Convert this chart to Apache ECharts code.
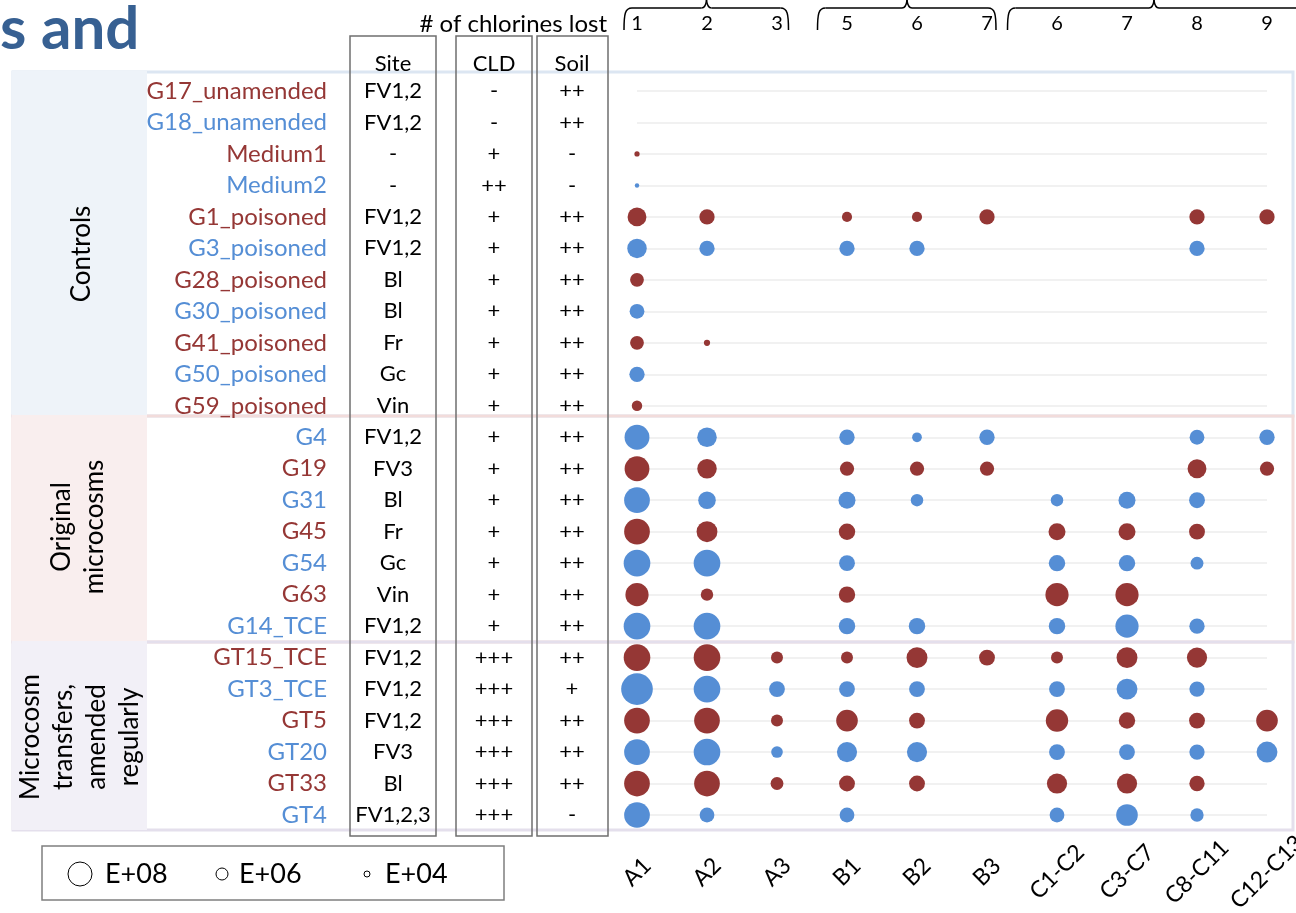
<!DOCTYPE html>
<html><head><meta charset="utf-8">
<script src="https://cdn.jsdelivr.net/npm/echarts@6/dist/echarts.min.js"></script>
<style>html,body{margin:0;padding:0;background:#fff}#c{width:1296px;height:913px}</style>
</head><body><div id="c"></div><script>
// ---- data ----
const congeners = ['A1','A2','A3','B1','B2','B3','C1-C2','C3-C7','C8-C11','C12-C13'];
const chlorinesLost = ['1','2','3','5','6','7','6','7','8','9'];
const samples = ['G17_unamended','G18_unamended','Medium1','Medium2','G1_poisoned','G3_poisoned','G28_poisoned','G30_poisoned','G41_poisoned','G50_poisoned','G59_poisoned','G4','G19','G31','G45','G54','G63','G14_TCE','GT15_TCE','GT3_TCE','GT5','GT20','GT33','GT4'];
const site = ['FV1,2','FV1,2','-','-','FV1,2','FV1,2','Bl','Bl','Fr','Gc','Vin','FV1,2','FV3','Bl','Fr','Gc','Vin','FV1,2','FV1,2','FV1,2','FV1,2','FV3','Bl','FV1,2,3'];
const cld = ['-','-','+','++','+','+','+','+','+','+','+','+','+','+','+','+','+','+','+++','+++','+++','+++','+++','+++'];
const soil = ['++','++','-','-','++','++','++','++','++','++','++','++','++','++','++','++','++','++','++','+','++','++','++','-'];
const groups = ['Controls','Original\nmicrocosms','Microcosm\ntransfers,\namended\nregularly'];
const legendExponents = [8, 6, 4];
const legendLabels = ['E+08','E+06','E+04'];
const n = null;
// log10 abundance per sample (rows) and congener group (columns)
const abundance = [
  [n,n,n,n,n,n,n,n,n,n],
  [n,n,n,n,n,n,n,n,n,n],
  [3.6,n,n,n,n,n,n,n,n,n],
  [3.1,n,n,n,n,n,n,n,n,n],
  [7.3,6.7,n,5.5,5.5,6.7,n,n,6.7,6.7],
  [7.4,6.7,n,6.7,6.7,n,n,n,6.7,n],
  [6.4,n,n,n,n,n,n,n,n,n],
  [6.6,n,n,n,n,n,n,n,n,n],
  [6.4,4.1,n,n,n,n,n,n,n,n],
  [6.7,n,n,n,n,n,n,n,n,n],
  [5.6,n,n,n,n,n,n,n,n,n],
  [8.1,7.4,n,6.7,5.4,6.7,n,n,6.6,6.7],
  [8.1,7.4,n,6.5,6.5,6.5,n,n,7.3,6.5],
  [8.2,7.1,n,7.0,6.1,n,6.1,7.0,6.8,n],
  [8.2,7.6,n,6.9,n,n,7.0,7.0,6.8,n],
  [8.3,8.3,n,6.8,n,n,6.9,6.9,6.2,n],
  [7.9,6.1,n,6.9,n,n,7.9,7.9,n,n],
  [8.3,8.3,n,6.9,6.9,n,6.9,7.9,6.7,n],
  [8.3,8.3,6.0,6.0,7.6,6.8,6.0,7.6,7.5,n],
  [8.8,8.3,6.8,6.8,6.8,n,6.8,7.6,6.7,n],
  [8.2,8.2,6.0,7.7,6.8,n,7.8,6.9,6.8,7.7],
  [8.2,8.3,5.9,7.5,7.5,n,6.8,6.8,6.7,7.6],
  [8.2,8.2,6.2,6.8,6.8,n,7.5,7.5,6.7,n],
  [8.2,6.6,n,6.6,n,n,6.6,7.7,6.3,n]
];
// ---- styles ----
const RED = '#953735', BLUE = '#558ED5';
const FONT = 'Lato';
const sizeOf = v => 6 * Math.pow(2, (v - 4) / 2);
const rowColor = i => (i % 2 === 0 ? RED : BLUE);

const points = [];
abundance.forEach((row, r) => row.forEach((v, c) => { if (v !== null) points.push([c, r, v]); }));

const tableAxis = (arr, margin) => ({
  type: 'category', data: samples, inverse: true, boundaryGap: false, gridIndex: 0, position: 'left', offset: 0,
  axisLine: {show: false}, axisTick: {show: false}, splitLine: {show: false},
  axisLabel: {interval: 0, margin: margin, align: 'center', fontSize: 22, fontFamily: FONT, color: '#000',
    padding: [4, 0, 0, 0], formatter: (v, i) => arr[i]}
});

const chart = echarts.init(document.getElementById('c'), null, {renderer: 'canvas'});

const graphics = [];
// group panels
const panelDefs = [
  {y0: 72, y1: 416, fill: '#EEF3F9', stroke: '#DCE6F2', cx: 82, cy: 254},
  {y0: 416, y1: 642, fill: '#F9EEEE', stroke: '#F2DCDB', cx: 78, cy: 527},
  {y0: 642, y1: 830, fill: '#F2F0F7', stroke: '#E4DFEC', cx: 80, cy: 737}
];
panelDefs.forEach((p, i) => {
  graphics.push({type: 'rect', z: -10, shape: {x: 13, y: p.y0, width: 1280, height: p.y1 - p.y0},
    style: {fill: 'none', stroke: p.stroke, lineWidth: 3}});
  graphics.push({type: 'rect', z: -9, shape: {x: 12, y: p.y0 - 1, width: 135, height: p.y1 - p.y0 + 1},
    style: {fill: p.fill}});
  graphics.push({type: 'text', z: 5, x: p.cx, y: p.cy, rotation: Math.PI / 2,
    style: {text: groups[i], align: 'center', verticalAlign: 'middle', fontSize: 26, lineHeight: 33,
      fontFamily: FONT, fill: '#000'}});
});
// table boxes
[[350, 86], [456, 76], [537, 71]].forEach(b => {
  graphics.push({type: 'rect', z: 3, shape: {x: b[0], y: 36, width: b[1], height: 800},
    style: {fill: 'none', stroke: '#6F6F6F', lineWidth: 1.5}});
});
// table headers
[['Site', 393], ['CLD', 494], ['Soil', 572]].forEach(h => {
  graphics.push({type: 'text', z: 5, x: h[1], y: 64,
    style: {text: h[0], align: 'center', verticalAlign: 'middle', fontSize: 22, fontFamily: FONT, fill: '#000'}});
});
// header text
graphics.push({type: 'text', z: 5, x: 607, y: 24,
  style: {text: '# of chlorines lost', align: 'right', verticalAlign: 'middle', fontSize: 24, fontFamily: FONT, fill: '#000'}});
// slide title fragment
graphics.push({type: 'text', z: 5, x: 0, y: 30,
  style: {text: 's and', align: 'left', verticalAlign: 'middle', fontSize: 60, fontWeight: 'bold', fontFamily: FONT, fill: '#376092'}});
// braces
const braceStyle = {fill: 'none', stroke: '#000', lineWidth: 1.5};
const bez = (x1, y1, cx1, cy1, cx2, cy2, x2, y2) => ({type: 'bezierCurve', z: 5,
  shape: {x1: x1, y1: y1, cpx1: cx1, cpy1: cy1, cpx2: cx2, cpy2: cy2, x2: x2, y2: y2}, style: braceStyle});
const seg = (x1, y1, x2, y2) => ({type: 'line', z: 5, shape: {x1: x1, y1: y1, x2: x2, y2: y2}, style: braceStyle});
[[624, 706.5, 788.5], [817.5, 907, 996], [1007.5, 1154, 1340]].forEach(b => {
  const l = b[0], m = b[1], r = b[2];
  graphics.push(bez(l, 30, l, 14, l + 1, 8, l + 8, 8));
  graphics.push(seg(l + 8, 8, m - 5, 8));
  graphics.push(bez(m - 5, 8, m - 2, 8, m - 0.5, 5, m, 0));
  graphics.push(bez(m, 0, m + 0.5, 5, m + 2, 8, m + 5, 8));
  graphics.push(seg(m + 5, 8, r - 8, 8));
  graphics.push(bez(r - 8, 8, r - 1, 8, r, 14, r, 30));
});
// legend
graphics.push({type: 'rect', z: 5, shape: {x: 42, y: 846, width: 462, height: 54},
  style: {fill: '#fff', stroke: '#7F7F7F', lineWidth: 1.5}});
const legCx = [80, 222, 367], legTx = [105, 239, 385];
legendExponents.forEach((e, i) => {
  graphics.push({type: 'circle', z: 6, shape: {cx: legCx[i], cy: 874, r: sizeOf(e) / 2},
    style: {fill: '#fff', stroke: '#000', lineWidth: 1}});
  graphics.push({type: 'text', z: 6, x: legTx[i], y: 874,
    style: {text: legendLabels[i], align: 'left', verticalAlign: 'middle', fontSize: 27, fontFamily: FONT, fill: '#000'}});
});

chart.setOption({
  animation: false,
  backgroundColor: '#fff',
  grid: {left: 637, right: 29, top: 91, bottom: 98, containLabel: false, outerBoundsMode: 'none'},
  xAxis: [
    {type: 'category', data: congeners, boundaryGap: false, position: 'bottom',
      axisLine: {show: false}, axisTick: {show: false}, splitLine: {show: false},
      axisLabel: {interval: 0, rotate: 45, align: 'center', verticalAlign: 'middle', margin: 57,
        fontSize: 23, fontFamily: FONT, color: '#000'}},
    {type: 'category', data: congeners, boundaryGap: false, position: 'top',
      axisLine: {show: false}, axisTick: {show: false}, splitLine: {show: false},
      axisLabel: {interval: 0, margin: 67, verticalAlign: 'middle', fontSize: 20, fontFamily: FONT, color: '#000',
        formatter: (v, i) => chlorinesLost[i]}}
  ],
  yAxis: [
    {type: 'category', data: samples, inverse: true, boundaryGap: false, position: 'left',
      axisLine: {show: false}, axisTick: {show: false},
      splitLine: {show: true, lineStyle: {color: '#EDEDED', width: 1.5}},
      axisLabel: {interval: 0, margin: 310, fontSize: 24, fontFamily: FONT, padding: [0, 0, 6, 0],
        color: (v, i) => rowColor(i)}},
    tableAxis(site, 244),
    tableAxis(cld, 143),
    tableAxis(soil, 65)
  ],
  series: [{
    type: 'scatter', xAxisIndex: 0, yAxisIndex: 0, data: points,
    symbol: 'circle', symbolSize: d => sizeOf(d[2]),
    itemStyle: {opacity: 1, color: p => rowColor(p.data[1])}
  }],
  graphic: graphics
});
</script></body></html>
